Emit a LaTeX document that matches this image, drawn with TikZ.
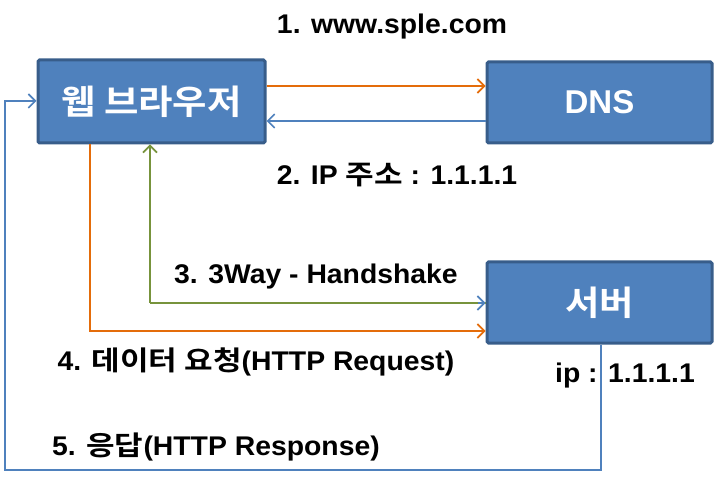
\documentclass[tikz,border=0pt]{standalone}
\usepackage{fontspec}
\setmainfont{Liberation Sans}
\newfontfamily\lat{Liberation Sans}[FakeStretch=1.05]
\newfontfamily\kr{Noto Sans CJK KR}[BoldFont={* Bold}, FakeStretch=1.15]
\newfontfamily\krbox{Noto Sans CJK KR}[BoldFont={* Bold}, FakeStretch=1.1]
\usetikzlibrary{arrows.meta}
\definecolor{boxfill}{HTML}{4F81BD}
\definecolor{boxline}{HTML}{385D8A}
\definecolor{orangeline}{HTML}{E46C0A}
\definecolor{blueline}{HTML}{4F81BD}
\definecolor{greenline}{HTML}{77933C}
\newcommand{\hg}[1]{{\kr\bfseries #1}}
\tikzset{
  procbox/.style={draw=boxline, line width=3pt, fill=boxfill, rounded corners=1.5pt,
    text=white, font=\fontsize{33}{36}\selectfont\bfseries, inner sep=0pt},
  lbl/.style={font=\fontsize{27}{30}\selectfont\lat\bfseries, inner sep=0pt, text=black},
  conn/.style={line width=1.6pt, -{Straight Barb[length=7pt,width=14pt,line width=1.6pt]}},
}
\begin{document}
\begin{tikzpicture}[x=1pt,y=-1pt]
\useasboundingbox (0,0) rectangle (718,481);
\node[procbox, minimum width=227pt, minimum height=83pt] (web) at (151.5,101.5) {\fontsize{34}{36}\krbox\bfseries 웹 브라우저};
\node[procbox, minimum width=225pt, minimum height=81pt] (dns) at (599.5,102.5) {DNS};
\node[procbox, minimum width=225pt, minimum height=81pt] (srv) at (599.5,302.5) {\fontsize{34}{36}\krbox\bfseries 서버};

\node[lbl] (l1) at (392,27) {1. www.sple.com};
\node[lbl] (l2) at (397,175) {2. IP \hg{주소} : 1.1.1.1};
\node[lbl] (l3) at (316,277) {3. 3Way - Handshake};
\node[lbl] (l4) at (256,362) {4. \hg{데이터 요청}(HTTP Request)};
\node[lbl] (l5) at (216,447) {5. \hg{응답}(HTTP Response)};
\node[lbl] (lip) at (625,376) {ip : 1.1.1.1};

\coordinate (g1) at (150,303);
\coordinate (o1) at (90,331);
\coordinate (b1) at (601,470);
\coordinate (b2) at (5,470);
\coordinate (b3) at (5,101);

\draw[conn, orangeline] (web.east |- 0,86) -- (dns.west |- 0,86);
\draw[conn, blueline] (dns.west |- 0,121) -- (web.east |- 0,121);
\draw[conn, greenline] (g1) -- (g1 |- web.south);
\draw[line width=1.6pt, greenline] (g1) -- (srv.west |- g1);
\draw[conn, draw=blueline, -{Straight Barb[length=7pt,width=14pt,line width=1.6pt,color=blueline]}] ([xshift=-8pt]srv.west |- g1) -- (srv.west |- g1);
\draw[conn, orangeline] (o1 |- web.south) -- (o1) -- (srv.west |- o1);
\draw[conn, blueline] (b1 |- srv.south) -- (b1) -- (b2) -- (b3) -- (web.west |- b3);
\end{tikzpicture}
\end{document}
